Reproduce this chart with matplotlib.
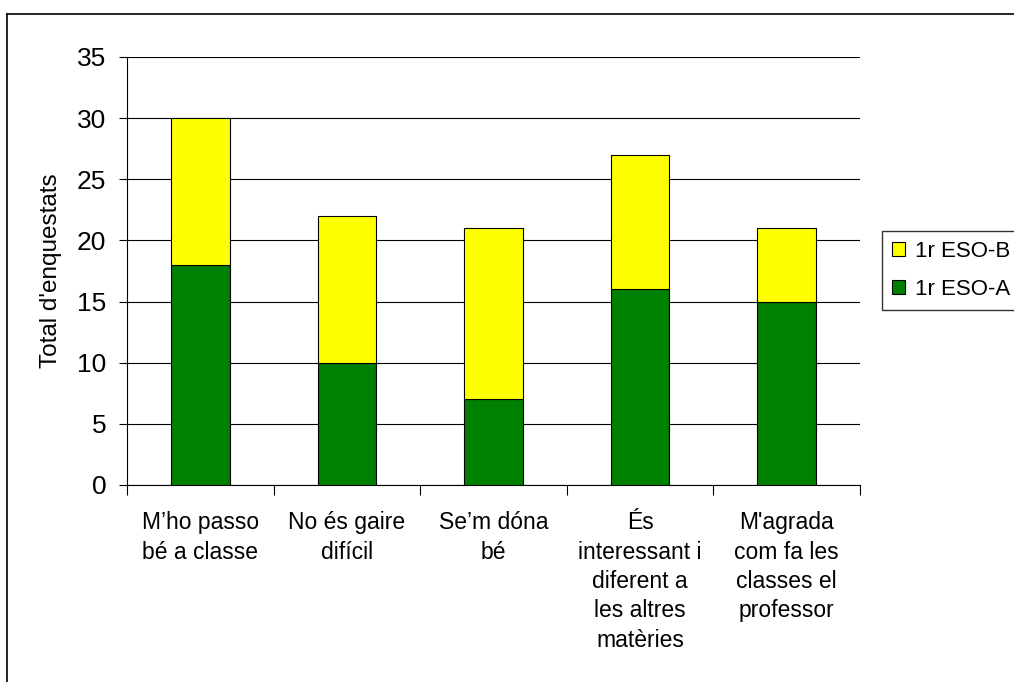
import matplotlib
matplotlib.use("Agg")
import matplotlib.pyplot as plt
from matplotlib.lines import Line2D
import numpy as np

categories = ["M’ho passo\nbé a classe", "No és gaire\ndifícil", "Se’m dóna\nbé",
              "És\ninteressant i\ndiferent a\nles altres\nmatèries",
              "M'agrada\ncom fa les\nclasses el\nprofessor"]
eso_a = [18, 10, 7, 16, 15]
eso_b = [12, 12, 14, 11, 6]
yticks = [0, 5, 10, 15, 20, 25, 30, 35]

plt.rcParams['font.family'] = ['Liberation Sans', 'DejaVu Sans']
W, H = 1014, 682
fig = plt.figure(figsize=(W/100, H/100), dpi=100)
ax = fig.add_axes([127/W, 1-485/H, 733/W, 428/H])

x = np.arange(len(categories))
ax.bar(x, eso_a, width=0.4, color='#008000', edgecolor='black', linewidth=0.8, label='1r ESO-A', zorder=3)
ax.bar(x, eso_b, bottom=eso_a, width=0.4, color='#FFFF00', edgecolor='black', linewidth=0.8, label='1r ESO-B', zorder=3)

ax.set_xlim(-0.5, len(categories)-0.5)
ax.set_ylim(0, 35)
ax.set_yticks(yticks)
ax.yaxis.grid(True, color='black', linewidth=0.8)
ax.set_axisbelow(True)
for s in ['top', 'right']:
    ax.spines[s].set_visible(False)
ax.spines['left'].set_linewidth(0.8)
ax.spines['bottom'].set_linewidth(0.8)
ax.tick_params(axis='y', labelsize=19, length=6, width=0.8, pad=9)
ax.set_xticks(x)
ax.set_xticklabels(categories, fontsize=16.5, linespacing=1.35, va='top')
ax.tick_params(axis='x', which='major', length=0, pad=19)
ax.set_xticks(np.arange(-0.5, len(categories)), minor=True)
ax.tick_params(axis='x', which='minor', length=7, width=0.8, direction='out')
ax.set_ylabel("Total d'enquestats", fontsize=17.5, labelpad=11)

# figure border
fig.add_artist(Line2D([7/W, 7/W], [0, 1-14/H], color='black', linewidth=1.2))
fig.add_artist(Line2D([7/W, 1], [1-14/H, 1-14/H], color='black', linewidth=1.2))

handles, labels = ax.get_legend_handles_labels()
leg = fig.legend(handles[::-1], labels[::-1], loc='upper left',
                 bbox_to_anchor=(882/W, 1-231/H), borderaxespad=0,
                 fancybox=False, edgecolor='#333333', fontsize=16,
                 handlelength=0.58, handleheight=0.58, handletextpad=0.45,
                 labelspacing=0.75, borderpad=0.45, framealpha=1)
leg.get_frame().set_linewidth(1.0)

fig.savefig('out.png', dpi=100)
